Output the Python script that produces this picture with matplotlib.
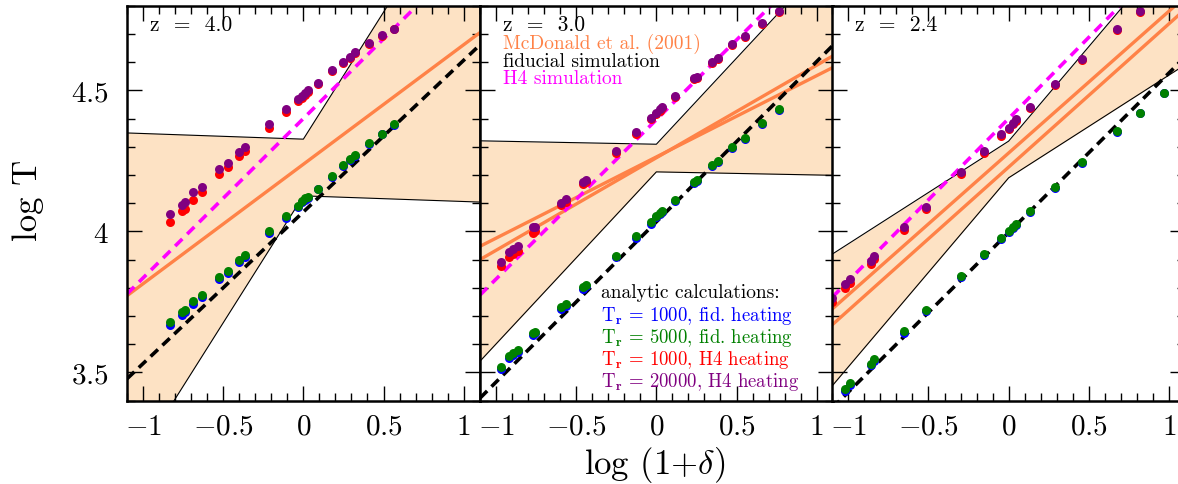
import numpy as np
import matplotlib
matplotlib.use("Agg")
import matplotlib.pyplot as plt
from matplotlib.ticker import MultipleLocator

plt.rcParams['font.family'] = ['cmr10']
plt.rcParams['mathtext.fontset'] = 'cm'
plt.rcParams['axes.formatter.use_mathtext'] = True

# redshift of each panel
redshifts = ["4.0", "3.0", "2.4"]

# log(1+delta) of the analytic points, one list per panel
x_pts = [
    [-0.830, -0.754, -0.737, -0.691, -0.633, -0.525, -0.467, -0.403, -0.363, -0.212, -0.108, -0.031,
     -0.010, 0.011, 0.031, 0.094, 0.177, 0.250, 0.291, 0.322, 0.411, 0.488, 0.567],
    [-0.970, -0.922, -0.893, -0.866, -0.767, -0.756, -0.596, -0.565, -0.455, -0.441, -0.254, -0.129,
     -0.036, 0.000, 0.021, 0.037, 0.116, 0.235, 0.251, 0.349, 0.384, 0.473, 0.550, 0.656, 0.764],
    [-1.101, -1.018, -0.991, -0.858, -0.837, -0.654, -0.517, -0.299, -0.152, -0.046, 0.000, 0.027,
     0.048, 0.135, 0.291, 0.459, 0.675, 0.818, 0.968],
]
# log T, Tr = 1000, fiducial heating
t_blue = [
    [3.668, 3.704, 3.714, 3.744, 3.768, 3.830, 3.854, 3.893, 3.910, 3.996, 4.048, 4.087,
     4.104, 4.113, 4.119, 4.149, 4.194, 4.232, 4.253, 4.268, 4.309, 4.344, 4.377],
    [3.514, 3.553, 3.563, 3.573, 3.633, 3.639, 3.725, 3.737, 3.797, 3.806, 3.909, 3.977,
     4.028, 4.051, 4.063, 4.069, 4.107, 4.173, 4.178, 4.233, 4.247, 4.297, 4.329, 4.380, 4.432],
    [3.364, 3.436, 3.457, 3.525, 3.542, 3.641, 3.718, 3.837, 3.916, 3.972, 3.998, 4.012,
     4.024, 4.070, 4.153, 4.243, 4.352, 4.418, 4.489],
]
# log T, Tr = 5000, fiducial heating
t_green = [
    [3.678, 3.713, 3.723, 3.752, 3.776, 3.837, 3.861, 3.900, 3.917, 4.002, 4.053, 4.091,
     4.108, 4.117, 4.123, 4.152, 4.197, 4.235, 4.256, 4.271, 4.312, 4.347, 4.380],
    [3.521, 3.560, 3.570, 3.580, 3.639, 3.645, 3.731, 3.743, 3.802, 3.811, 3.914, 3.982,
     4.032, 4.055, 4.067, 4.073, 4.111, 4.176, 4.181, 4.236, 4.250, 4.300, 4.332, 4.383, 4.435],
    [3.370, 3.442, 3.463, 3.531, 3.548, 3.646, 3.723, 3.841, 3.920, 3.976, 4.002, 4.016,
     4.028, 4.073, 4.156, 4.246, 4.355, 4.421, 4.492],
]
# log T, Tr = 1000, H4 heating
t_red = [
    [4.032, 4.073, 4.081, 4.112, 4.140, 4.203, 4.230, 4.268, 4.285, 4.368, 4.423, 4.462,
     4.473, 4.483, 4.494, 4.522, 4.567, 4.598, 4.615, 4.632, 4.665, 4.692, 4.716],
    [3.877, 3.911, 3.920, 3.932, 3.996, 4.000, 4.092, 4.105, 4.167, 4.174, 4.277, 4.345,
     4.397, 4.416, 4.428, 4.437, 4.476, 4.541, 4.545, 4.598, 4.612, 4.660, 4.690, 4.735, 4.778],
    [3.750, 3.801, 3.818, 3.884, 3.902, 4.004, 4.080, 4.202, 4.279, 4.339, 4.363, 4.380,
     4.392, 4.437, 4.520, 4.609, 4.715, 4.778, 4.868],
]
# log T, Tr = 20000, H4 heating
t_purple = [
    [4.061, 4.094, 4.106, 4.138, 4.159, 4.220, 4.244, 4.282, 4.299, 4.380, 4.433, 4.468,
     4.480, 4.489, 4.500, 4.527, 4.572, 4.601, 4.619, 4.635, 4.668, 4.696, 4.719],
    [3.893, 3.928, 3.937, 3.949, 4.014, 4.016, 4.102, 4.114, 4.176, 4.183, 4.285, 4.352,
     4.403, 4.421, 4.433, 4.442, 4.480, 4.545, 4.548, 4.601, 4.615, 4.663, 4.692, 4.737, 4.780],
    [3.763, 3.814, 3.831, 3.896, 3.914, 4.014, 4.088, 4.209, 4.285, 4.344, 4.368, 4.385,
     4.397, 4.441, 4.523, 4.612, 4.718, 4.780, 4.870],
]

# T-rho relations: (log T0, gamma - 1)
fid_fit = [(4.069, 0.5375), (4.034, 0.568), (3.996, 0.5655)]
h4_fit = [(4.400, 0.565), (4.396, 0.565), (4.400, 0.5756)]
mcd_fit = [[(4.238, 0.4236)],
           [(4.261, 0.328), (4.264, 0.288)],
           [(4.278, 0.5026), (4.228, 0.508)]]
# McDonald et al. error band: log T0 range and slope range
mcd_t0 = [(4.126, 4.327), (4.211, 4.309), (4.190, 4.320)]
mcd_slope = [(-0.020, 0.90), (-0.011, 0.61), (0.364, 0.67)]

xticks = [-1, -0.5, 0, 0.5, 1]
xticklabels = ["$-1$", "$-0.5$", "$0$", "$0.5$", "$1$"]
yticks = [3.5, 4, 4.5]
yticklabels = ["$3.5$", "$4$", "$4.5$"]

legend_items = [("T$_\\mathbf{r}$ = 1000, fid. heating", "#0000ff"),
                ("T$_\\mathbf{r}$ = 5000, fid. heating", "#008000"),
                ("T$_\\mathbf{r}$ = 1000, H4 heating", "#ff0000"),
                ("T$_\\mathbf{r}$ = 20000, H4 heating", "#800080")]

ORANGE = "#ff8247"
BAND = "#fde2c4"
XLIM = (-1.1, 1.1)
YLIM = (3.4, 4.8)

W, H = 1178, 485
fig = plt.figure(figsize=(W / 100, H / 100), dpi=100)
lefts = [127, 480, 832.3]
pw = 352.7

xx = np.array([XLIM[0], 0.0, XLIM[1]])
xl = np.array(XLIM)

for i in range(3):
    ax = fig.add_axes([lefts[i] / W, (H - 401.7) / H, pw / W, 395 / H])

    # error band of the McDonald fit
    lo = mcd_t0[i][0] + np.minimum(mcd_slope[i][0] * xx, mcd_slope[i][1] * xx)
    hi = mcd_t0[i][1] + np.maximum(mcd_slope[i][0] * xx, mcd_slope[i][1] * xx)
    ax.fill_between(xx, lo, hi, color=BAND, lw=0, zorder=1)
    ax.plot(xx, lo, color='k', lw=0.8, zorder=2)
    ax.plot(xx, hi, color='k', lw=0.8, zorder=2)

    for a, b in mcd_fit[i]:
        ax.plot(xl, a + b * xl, color=ORANGE, lw=2.4, zorder=3)
    a, b = fid_fit[i]
    ax.plot(xl, a + b * xl, color='k', lw=2.6, ls=(0, (2.8, 1.7)), zorder=3)
    a, b = h4_fit[i]
    ax.plot(xl, a + b * xl, color='#ff00ff', lw=2.6, ls=(0, (2.8, 1.9)), zorder=3)

    for ys, c in [(t_blue, "#0000ff"), (t_green, "#008000"),
                  (t_red, "#ff0000"), (t_purple, "#800080")]:
        ax.scatter(x_pts[i], ys[i], s=42, color=c, lw=0, zorder=4)

    ax.set_xlim(*XLIM)
    ax.set_ylim(*YLIM)
    ax.set_xticks(xticks)
    ax.set_xticklabels(xticklabels)
    ax.set_yticks(yticks)
    if i == 0:
        ax.set_yticklabels(yticklabels)
    else:
        ax.set_yticklabels([])
    ax.xaxis.set_minor_locator(MultipleLocator(0.1))
    ax.yaxis.set_minor_locator(MultipleLocator(0.1))
    ax.tick_params(which='both', direction='in', top=True, right=True, width=1)
    ax.tick_params(which='major', length=11, labelsize=21)
    ax.tick_params(axis='x', which='major', pad=9)
    ax.tick_params(axis='y', which='major', pad=13)
    ax.tick_params(which='minor', length=5.5)
    for s in ax.spines.values():
        s.set_linewidth(1.8)
        s.set_zorder(6)

    ax.text(0.065, 0.952, "z  =  " + redshifts[i], transform=ax.transAxes,
            fontsize=15.5, va='center', ha='left')

    if i == 1:
        for txt, c, yy in [("McDonald et al. (2001)", ORANGE, 0.906),
                           ("fiducial simulation", "k", 0.861),
                           ("H4 simulation", "#ff00ff", 0.816)]:
            ax.text(0.065, yy, txt, color=c, transform=ax.transAxes,
                    fontsize=14, va='center', ha='left')
        ax.text(0.343, 0.274, "analytic calculations:", transform=ax.transAxes,
                fontsize=14, va='center', ha='left')
        for k, (txt, c) in enumerate(legend_items):
            ax.text(0.343, 0.218 - 0.056 * k, txt, color=c, transform=ax.transAxes,
                    fontsize=13.5, va='center', ha='left')

fig.text(655 / W, 1 - 465 / H, "log (1+$\\delta$)", fontsize=25, ha='center', va='center')
fig.text(28 / W, 1 - 200 / H, "log T", fontsize=25, ha='center', va='center', rotation=90)

fig.savefig("out.png", dpi=100)
